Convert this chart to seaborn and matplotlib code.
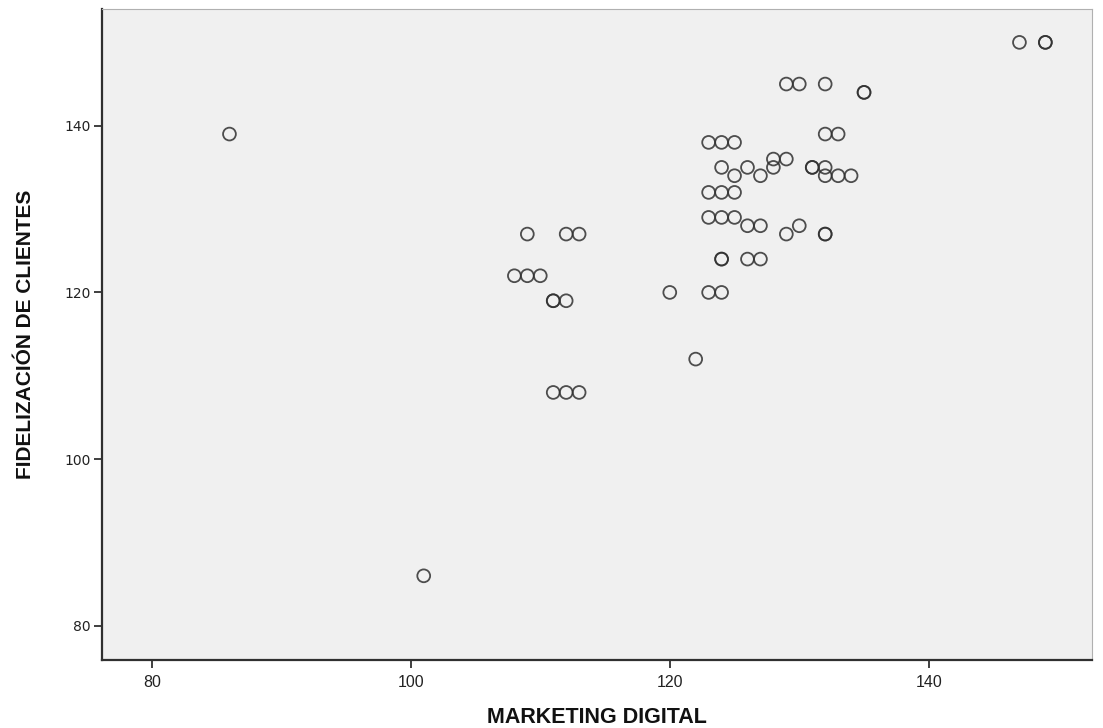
import matplotlib
matplotlib.use("Agg")
import matplotlib.pyplot as plt
import pandas as pd
import seaborn as sns

# values (duplicates = overplotted points)
marketing = [86, 101,
             108, 109, 110,
             109, 112, 113,
             111, 111, 112,
             111, 112, 113,
             120, 123, 124,
             122,
             123, 124, 125,
             126, 127, 130,
             129, 132, 132,
             124, 124, 126, 127,
             123, 124, 125,
             125, 127, 132, 133, 134,
             124, 126, 128, 131, 131, 132,
             128, 129,
             123, 124, 125,
             132, 133,
             129, 130, 132,
             135, 135,
             147, 149, 149]
fidelizacion = [139, 86,
                122, 122, 122,
                127, 127, 127,
                119, 119, 119,
                108, 108, 108,
                120, 120, 120,
                112,
                129, 129, 129,
                128, 128, 128,
                127, 127, 127,
                124, 124, 124, 124,
                132, 132, 132,
                134, 134, 134, 134, 134,
                135, 135, 135, 135, 135, 135,
                136, 136,
                138, 138, 138,
                139, 139,
                145, 145, 145,
                144, 144,
                150, 150, 150]
x_ticks = [80, 100, 120, 140]
y_ticks = [80, 100, 120, 140]

df = pd.DataFrame({"MARKETING DIGITAL": marketing,
                   "FIDELIZACIÓN DE CLIENTES": fidelizacion})

sns.set_theme(style="white")
plt.rcParams["font.family"] = ["Liberation Sans", "DejaVu Sans"]

fig = plt.figure(figsize=(11.03, 7.28), dpi=100)
ax = fig.add_axes([0.0925, 0.0934, 0.8975, 0.8942])
ax.set_facecolor("#f0f0f0")

sns.scatterplot(data=df, x="MARKETING DIGITAL", y="FIDELIZACIÓN DE CLIENTES",
                ax=ax, marker="o", s=85, facecolor="none",
                edgecolor="#303030", linewidth=1.3, alpha=0.85)

ax.set_xlim(76.16, 152.6)
ax.set_ylim(75.9, 154.0)
ax.set_xticks(x_ticks)
ax.set_yticks(y_ticks)
ax.tick_params(axis="both", direction="out", length=6, width=1.3,
               color="#303030", bottom=True, left=True)
ax.tick_params(axis="x", labelsize=11.5, pad=5)
ax.tick_params(axis="y", labelsize=10, pad=2)
for lab in ax.get_yticklabels():
    lab.set_family(["DejaVu Sans"])
    lab.set_color("#222222")
for lab in ax.get_xticklabels():
    lab.set_color("#222222")

for side in ["left", "bottom"]:
    ax.spines[side].set_color("#303030")
    ax.spines[side].set_linewidth(1.6)
for side in ["top", "right"]:
    ax.spines[side].set_color("#b0b0b0")
    ax.spines[side].set_linewidth(0.8)

ax.set_xlabel("MARKETING DIGITAL", fontsize=15.5, fontweight="bold",
              color="#111111", labelpad=12)
ax.set_ylabel("FIDELIZACIÓN DE CLIENTES", fontsize=15, fontweight="bold",
              color="#111111", labelpad=21)

fig.savefig("out.png", dpi=100)
